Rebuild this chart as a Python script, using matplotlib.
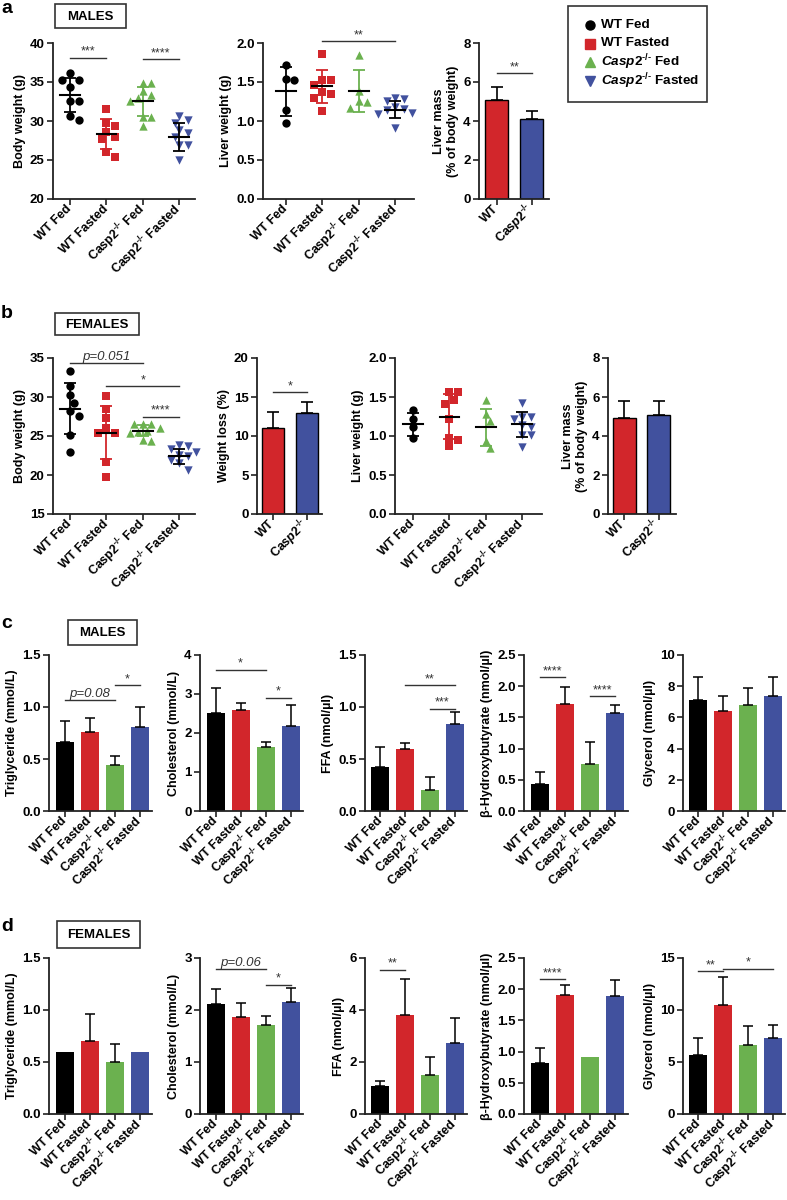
import matplotlib
matplotlib.use('Agg')
import matplotlib.pyplot as plt
import numpy as np
from matplotlib.patches import Rectangle

plt.rcParams['font.family'] = ['Liberation Sans', 'DejaVu Sans']
plt.rcParams['font.weight'] = 'bold'
plt.rcParams['axes.labelweight'] = 'bold'
plt.rcParams['mathtext.fontset'] = 'custom'
plt.rcParams['mathtext.rm'] = 'Liberation Sans:bold'
plt.rcParams['mathtext.it'] = 'Liberation Sans:italic:bold'
plt.rcParams['mathtext.bf'] = 'Liberation Sans:bold'

# ---- data ----
groups = ["WT Fed", "WT Fasted", r"Casp2$^{\text{-/-}}$ Fed", r"Casp2$^{\text{-/-}}$ Fasted"]
legend_labels = ["WT Fed", "WT Fasted", r"$\mathit{Casp2}^{\text{-/-}}$ Fed",
                 r"$\mathit{Casp2}^{\text{-/-}}$ Fasted"]
genotypes = ["WT", r"Cas$\mathit{p2}^{\text{-/-}}$"]
colors = ['#000000', '#d2262b', '#6bb14f', '#41519e']
sd_colors = ['#000000', '#d2262b', '#6bb14f', '#000000']
markers = ['o', 's', '^', 'v']

# a: males
a_bw = [[36.1, 35.3, 35.3, 34.3, 32.6, 32.6, 30.7, 30.1],
        [31.5, 29.7, 29.4, 28.6, 28.0, 27.7, 26.0, 25.4],
        [34.9, 34.9, 33.8, 33.3, 32.9, 32.5, 30.5, 30.5, 29.4],
        [30.7, 30.1, 29.7, 28.8, 28.4, 27.9, 26.9, 26.9, 25.0]]
a_bw_mean = [33.35, 28.3, 32.5, 28.0]
a_bw_sd = [2.15, 1.95, 1.85, 1.8]

a_lw = [[1.72, 1.54, 1.52, 1.14, 0.98],
        [1.86, 1.53, 1.53, 1.46, 1.37, 1.35, 1.29, 1.13],
        [1.85, 1.39, 1.25, 1.24, 1.17],
        [1.30, 1.28, 1.25, 1.18, 1.16, 1.14, 1.10, 1.09, 0.91]]
a_lw_mean = [1.38, 1.445, 1.39, 1.145]
a_lw_sd = [0.31, 0.215, 0.27, 0.11]

a_lm_mean = [5.1, 4.1]
a_lm_err = [0.65, 0.42]

# b: females
b_bw = [[33.3, 31.4, 30.2, 29.2, 28.2, 27.6, 25.1, 23.0],
        [30.1, 28.5, 27.3, 26.0, 25.4, 25.4, 21.7, 19.8],
        [26.6, 26.6, 26.5, 26.0, 25.7, 25.5, 25.4, 24.5, 24.4],
        [23.8, 23.7, 23.3, 23.0, 22.6, 22.4, 21.9, 21.5, 20.7]]
b_bw_mean = [28.5, 25.4, 25.7, 22.4]
b_bw_sd = [3.3, 3.4, 0.7, 0.95]

b_wl_mean = [11.0, 13.0]
b_wl_err = [2.1, 1.3]

b_lw = [[1.33, 1.22, 1.11, 0.98],
        [1.56, 1.56, 1.46, 1.41, 1.22, 0.98, 0.95, 0.87],
        [1.46, 1.28, 1.19, 0.94, 0.84],
        [1.42, 1.25, 1.24, 1.22, 1.14, 1.12, 1.01, 1.01, 0.86]]
b_lw_mean = [1.15, 1.25, 1.11, 1.15]
b_lw_sd = [0.15, 0.285, 0.235, 0.16]

b_lm_mean = [4.9, 5.1]
b_lm_err = [0.9, 0.72]

# c: males serum
c_tg = [0.66, 0.76, 0.44, 0.81];   c_tg_err = [0.21, 0.13, 0.09, 0.19]
c_chol = [2.52, 2.58, 1.63, 2.17]; c_chol_err = [0.63, 0.19, 0.14, 0.54]
c_ffa = [0.42, 0.60, 0.20, 0.84];  c_ffa_err = [0.20, 0.05, 0.13, 0.11]
c_bhb = [0.44, 1.71, 0.76, 1.57];  c_bhb_err = [0.19, 0.28, 0.34, 0.13]
c_gly = [7.12, 6.42, 6.80, 7.36];  c_gly_err = [1.45, 0.96, 1.09, 1.25]

# d: females serum
d_tg = [0.60, 0.70, 0.50, 0.60];   d_tg_err = [0, 0.26, 0.17, 0]
d_chol = [2.12, 1.86, 1.71, 2.15]; d_chol_err = [0.29, 0.27, 0.17, 0.27]
d_ffa = [1.07, 3.79, 1.51, 2.75];  d_ffa_err = [0.21, 1.41, 0.69, 0.95]
d_bhb = [0.81, 1.91, 0.91, 1.89];  d_bhb_err = [0.24, 0.15, 0, 0.25]
d_gly = [5.66, 10.52, 6.59, 7.26]; d_gly_err = [1.60, 2.66, 1.88, 1.28]

W, H = 787, 1200
fig = plt.figure(figsize=(W / 100, H / 100), dpi=100)
ov = fig.add_axes([0, 0, 1, 1])
ov.set_xlim(0, W)
ov.set_ylim(H, 0)
ov.axis('off')


def add_ax(x0, x1, y0, y1):
    ax = fig.add_axes([x0 / W, 1 - y1 / H, (x1 - x0) / W, (y1 - y0) / H])
    for s in ['top', 'right']:
        ax.spines[s].set_visible(False)
    for s in ['left', 'bottom']:
        ax.spines[s].set_linewidth(1.3)
        ax.spines[s].set_color('#222222')
    ax.tick_params(width=1.2, length=4, labelsize=9.5, color='#222222', pad=2)
    ax.patch.set_alpha(0)
    return ax


def set_axes(ax, xlim, ylim, yticks, ylabel, labels):
    ax.set_xlim(xlim)
    ax.set_ylim(ylim)
    ax.set_yticks(yticks)
    ax.set_xticks(range(len(labels)))
    ax.set_xticklabels(labels, rotation=45, ha='right', va='center',
                       rotation_mode='anchor', fontsize=9)
    ax.set_ylabel(ylabel, fontsize=9, labelpad=3)


def swarm_x(ax, xc, vals, d):
    to_px = ax.transData.transform
    ppu = to_px((1, 0))[0] - to_px((0, 0))[0]
    ys = [to_px((xc, v))[1] for v in vals]
    order = np.argsort(vals)[::-1]
    placed = []
    xs = np.zeros(len(vals))
    steps = [0, 0.5, -0.5, 1, -1, 1.5, -1.5, 2, -2, 2.5, -2.5]
    for k in order:
        for s in steps:
            px = s * d
            if all((px - qx) ** 2 + (ys[k] - qy) ** 2 >= (0.95 * d) ** 2 for qx, qy in placed):
                break
        placed.append((px, ys[k]))
        xs[k] = xc + px / ppu
    return xs


def dot_panel(ax, data, means, sds):
    for i, vals in enumerate(data):
        xs = swarm_x(ax, i, vals, 8.5)
        ax.scatter(xs, vals, marker=markers[i], s=36, color=colors[i], lw=0,
                   zorder=2, clip_on=False)
        ax.errorbar(i, means[i], yerr=sds[i], fmt='none', ecolor=sd_colors[i],
                    elinewidth=1.3, capsize=4, capthick=1.3, zorder=3)
        ax.plot([i - 0.27, i + 0.27], [means[i], means[i]], color='black', lw=1.5, zorder=4)


def bar2_panel(ax, means, errs):
    ax.bar([0, 1], means, width=0.66, color=[colors[1], colors[3]],
           edgecolor='black', lw=1, zorder=2)
    ax.errorbar([0, 1], means, yerr=[[0, 0], errs], fmt='none', ecolor='black',
                elinewidth=1.2, capsize=4, capthick=1.2, zorder=3)


def bar4_panel(ax, means, errs):
    ax.bar(range(4), means, width=0.72, color=colors, lw=0, zorder=2)
    for i, (m, e) in enumerate(zip(means, errs)):
        if e > 0:
            ax.errorbar(i, m, yerr=[[0], [e]], fmt='none', ecolor='black',
                        elinewidth=1.1, capsize=3.5, capthick=1.1, zorder=3)


def sig(ax, i, j, y, txt):
    ax.plot([i, j], [y, y], color='#333333', lw=1, clip_on=False)
    if txt.startswith('p'):
        ax.text((i + j) / 2, y, txt, ha='center', va='bottom', fontsize=9.5,
                style='italic', weight='normal', color='#333333')
    else:
        ax.text((i + j) / 2, y, txt, ha='center', va='bottom', fontsize=9,
                weight='normal', color='#333333')


# ---- panel a ----
ax = add_ax(53, 195, 43, 199)
set_axes(ax, (-0.47, 3.44), (20, 40), [20, 25, 30, 35, 40], 'Body weight (g)', groups)
dot_panel(ax, a_bw, a_bw_mean, a_bw_sd)
sig(ax, 0, 1, 38.1, '***')
sig(ax, 2, 3, 37.9, '****')

ax = add_ax(263, 414, 43, 199)
set_axes(ax, (-0.63, 3.52), (0, 2), [0, 0.5, 1, 1.5, 2], 'Liver weight (g)', groups)
dot_panel(ax, a_lw, a_lw_mean, a_lw_sd)
sig(ax, 1, 3, 2.02, '**')

ax = add_ax(479, 549, 43, 199)
set_axes(ax, (-0.51, 1.49), (0, 8), [0, 2, 4, 6, 8], 'Liver mass\n(% of body weight)', genotypes)
bar2_panel(ax, a_lm_mean, a_lm_err)
sig(ax, 0, 1, 6.45, '**')

# ---- panel b ----
ax = add_ax(53, 195, 358, 514)
set_axes(ax, (-0.47, 3.44), (15, 35), [15, 20, 25, 30, 35], 'Body weight (g)', groups)
dot_panel(ax, b_bw, b_bw_mean, b_bw_sd)
sig(ax, 0, 2, 34.4, 'p=0.051')
sig(ax, 1, 3, 31.4, '*')
sig(ax, 2, 3, 27.45, '****')

ax = add_ax(257, 322, 358, 514)
set_axes(ax, (-0.47, 1.44), (0, 20), [0, 5, 10, 15, 20], 'Weight loss (%)', genotypes)
bar2_panel(ax, b_wl_mean, b_wl_err)
sig(ax, 0, 1, 15.6, '*')

ax = add_ax(395, 542, 358, 514)
set_axes(ax, (-0.5, 3.55), (0, 2), [0, 0.5, 1, 1.5, 2], 'Liver weight (g)', groups)
dot_panel(ax, b_lw, b_lw_mean, b_lw_sd)

ax = add_ax(608, 676, 358, 514)
set_axes(ax, (-0.46, 1.49), (0, 8), [0, 2, 4, 6, 8], 'Liver mass\n(% of body weight)', genotypes)
bar2_panel(ax, b_lm_mean, b_lm_err)

# ---- panels c and d ----
col_x = [(49, 152), (200, 303), (365, 467), (524, 628), (683, 785)]
xl = (-0.62, 3.5)
rows = [
    (655, 811, [
        (c_tg, c_tg_err, (0, 1.5), [0, 0.5, 1, 1.5], 'Triglyceride (mmol/L)',
         [(0, 2, 1.07, 'p=0.08'), (2, 3, 1.21, '*')]),
        (c_chol, c_chol_err, (0, 4), [0, 1, 2, 3, 4], 'Cholesterol (mmol/L)',
         [(0, 2, 3.62, '*'), (2, 3, 2.91, '*')]),
        (c_ffa, c_ffa_err, (0, 1.5), [0, 0.5, 1, 1.5], 'FFA (nmol/µl)',
         [(1, 3, 1.21, '**'), (2, 3, 0.985, '***')]),
        (c_bhb, c_bhb_err, (0, 2.5), [0, 0.5, 1, 1.5, 2, 2.5], 'β-Hydroxybutyrate (nmol/µl)',
         [(0, 1, 2.14, '****'), (2, 3, 1.84, '****')]),
        (c_gly, c_gly_err, (0, 10), [0, 2, 4, 6, 8, 10], 'Glycerol (nmol/µl)', []),
    ]),
    (958, 1114, [
        (d_tg, d_tg_err, (0, 1.5), [0, 0.5, 1, 1.5], 'Triglyceride (mmol/L)', []),
        (d_chol, d_chol_err, (0, 3), [0, 1, 2, 3], 'Cholesterol (mmol/L)',
         [(0, 2, 2.78, 'p=0.06'), (2, 3, 2.49, '*')]),
        (d_ffa, d_ffa_err, (0, 6), [0, 2, 4, 6], 'FFA (nmol/µl)',
         [(0, 1, 5.55, '**')]),
        (d_bhb, d_bhb_err, (0, 2.5), [0, 0.5, 1, 1.5, 2, 2.5], 'β-Hydroxybutyrate (nmol/µl)',
         [(0, 1, 2.16, '****')]),
        (d_gly, d_gly_err, (0, 15), [0, 5, 10, 15], 'Glycerol (nmol/µl)',
         [(0, 1, 13.72, '**'), (1, 3, 13.98, '*')]),
    ]),
]
for y0, y1, panels in rows:
    for (x0, x1), (vals, errs, ylim, yt, ylab, sigs) in zip(col_x, panels):
        ax = add_ax(x0, x1, y0, y1)
        set_axes(ax, xl, ylim, yt, ylab, groups)
        bar4_panel(ax, vals, errs)
        for s in sigs:
            sig(ax, *s)

# ---- letters, sex boxes, legend ----
for letter, y in [('a', 13), ('b', 318), ('c', 628), ('d', 931)]:
    ov.text(1, y, letter, fontsize=14, weight='bold', va='baseline')

for (x0, y0, w, h, txt) in [(55, 4, 71, 24, 'MALES'), (55, 313, 84, 22, 'FEMALES'),
                            (68, 620, 69, 25, 'MALES'), (57, 921, 83, 27, 'FEMALES')]:
    ov.add_patch(Rectangle((x0, y0), w, h, fill=False, ec='#333333', lw=1.2))
    ov.text(x0 + w / 2, y0 + h / 2 + 0.5, txt, ha='center', va='center', fontsize=9.5, weight='bold')

ov.add_patch(Rectangle((568, 6), 139, 96, fill=False, ec='#333333', lw=1.2))
for i, (lab, yy) in enumerate(zip(legend_labels, [25, 43.5, 62, 81])):
    ov.plot(590, yy, marker=markers[i], color=colors[i], ms=6.5, ls='none')
    ov.text(601, yy, lab, va='center', fontsize=9.7, weight='bold')

fig.savefig('out.png', dpi=100)
